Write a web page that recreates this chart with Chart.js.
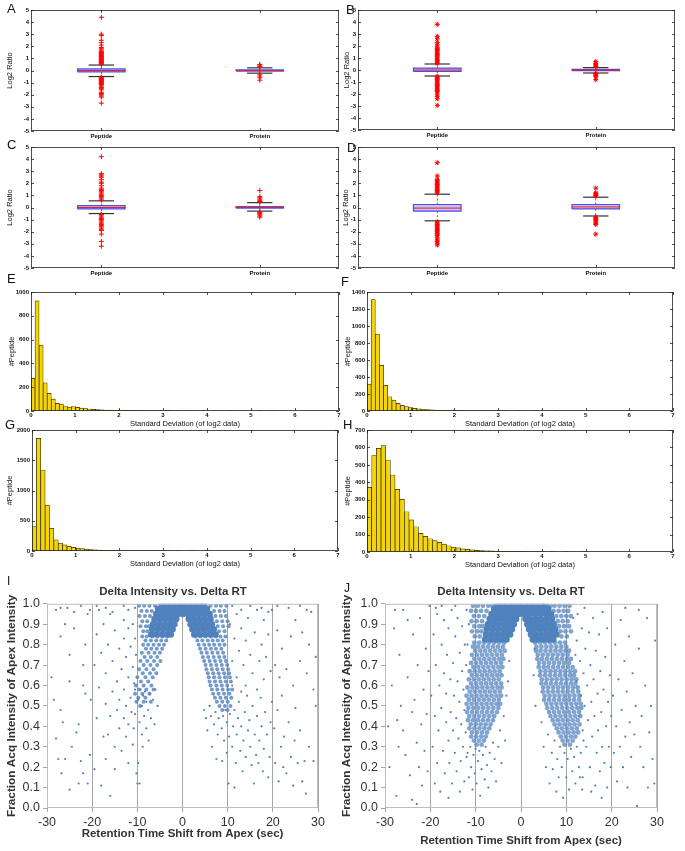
<!DOCTYPE html>
<html lang="en">
<head>
<meta charset="UTF-8">
<title>Log2 ratio, SD histograms and RT shift scatter</title>
<style>
  body { margin: 0; background: #fff; }
  #fig { position: relative; width: 685px; height: 851px; overflow: hidden; font-family: "Liberation Sans", Arial, sans-serif; }
  #fig canvas { position: absolute; }
  .tag { position: absolute; font-size: 13px; line-height: 13px; color: #111; }
</style>
</head>
<body>
<div id="fig">
  <canvas id="cA" width="344" height="146" style="left:0;top:0"></canvas>
  <canvas id="cB" width="340" height="146" style="left:340px;top:0"></canvas>
  <canvas id="cC" width="344" height="146" style="left:0;top:137px"></canvas>
  <canvas id="cD" width="340" height="146" style="left:340px;top:137px"></canvas>
  <canvas id="cE" width="344" height="146" style="left:0;top:282px"></canvas>
  <canvas id="cF" width="340" height="146" style="left:340px;top:282px"></canvas>
  <canvas id="cG" width="344" height="150" style="left:0;top:420px"></canvas>
  <canvas id="cH" width="340" height="150" style="left:340px;top:420px"></canvas>
  <canvas id="cI" width="346" height="276" style="left:0;top:575px"></canvas>
  <canvas id="cJ" width="342" height="276" style="left:340px;top:575px"></canvas>
  <div class="tag" style="left:7px;top:2px">A</div>
  <div class="tag" style="left:346px;top:3px">B</div>
  <div class="tag" style="left:7px;top:138px">C</div>
  <div class="tag" style="left:347px;top:141px">D</div>
  <div class="tag" style="left:7px;top:272px">E</div>
  <div class="tag" style="left:341px;top:275px">F</div>
  <div class="tag" style="left:5px;top:418px">G</div>
  <div class="tag" style="left:343px;top:418px">H</div>
  <div class="tag" style="left:7px;top:575px;font-size:12px">I</div>
  <div class="tag" style="left:344px;top:582px;font-size:12px">J</div>
</div>
<script src="https://cdn.jsdelivr.net/npm/chart.js@4"></script>
<script>
// ---- box plots (A-D): [lower whisker, q1, median, q3, upper whisker]
const boxCats = ['Peptide', 'Protein'];
const aPeptide = [-0.5, -0.12, 0, 0.13, 0.45];
const aProtein = [-0.22, -0.05, 0, 0.05, 0.22];
const aOutPep = [4.4, 3.0, 2.9, 2.5, 2.3, 2.1, 1.9, 1.8, 1.7, 1.6, 1.55, 1.5, 1.45, 1.4, 1.35, 1.3, 1.25, 1.2, 1.15, 1.1, 1.05, 1.0, 0.95, 0.9, 0.85, 0.8, 0.75, 0.7, 0.65, 0.6, 0.55, 0.5,
  -0.55, -0.6, -0.65, -0.7, -0.75, -0.8, -0.85, -0.9, -0.95, -1.0, -1.05, -1.1, -1.15, -1.2, -1.3, -1.4, -1.5, -1.6, -1.8, -1.9, -2.0, -2.1, -2.2, -2.7];
const aOutPro = [0.5, 0.45, 0.35, 0.3, -0.3, -0.45, -0.6, -0.8];

const bPeptide = [-0.5, -0.12, 0, 0.15, 0.5];
const bProtein = [-0.25, -0.06, 0, 0.06, 0.2];
const bOutPep = [3.8, 2.8, 2.6, 2.3, 2.1, 1.9, 1.8, 1.7, 1.6, 1.5, 1.4, 1.3, 1.2, 1.1, 1.0, 0.9, 0.8, 0.7, 0.6, 0.55,
  -0.55, -0.6, -0.7, -0.8, -0.9, -1.0, -1.1, -1.2, -1.3, -1.4, -1.5, -1.6, -1.7, -1.8, -2.0, -2.2, -2.4, -2.95];
const bOutPro = [0.7, 0.55, 0.45, 0.35, 0.3, -0.3, -0.35, -0.45, -0.55, -0.8];

const cPeptide = [-0.5, -0.12, 0, 0.15, 0.55];
const cProtein = [-0.3, -0.05, 0, 0.07, 0.4];
const cOutPep = [4.2, 2.8, 2.7, 2.6, 2.5, 2.3, 2.1, 2.0, 1.8, 1.6, 1.5, 1.4, 1.3, 1.2, 1.1, 1.0, 0.9, 0.8, 0.7, 0.6,
  -0.55, -0.6, -0.7, -0.8, -0.9, -1.0, -1.1, -1.2, -1.3, -1.4, -1.5, -1.6, -1.7, -1.8, -1.9, -2.2, -2.8, -3.2];
const cOutPro = [1.4, 0.9, 0.8, 0.7, 0.6, 0.5, 0.45, -0.35, -0.4, -0.5, -0.6, -0.7, -0.8];

const dPeptide = [-1.1, -0.3, -0.05, 0.25, 1.1];
const dProtein = [-0.7, -0.12, 0.05, 0.25, 0.85];
const dOutPep = [3.7, 2.6, 2.3, 2.2, 2.1, 2.0, 1.9, 1.8, 1.7, 1.6, 1.5, 1.4, 1.3, 1.2,
  -1.2, -1.3, -1.4, -1.5, -1.6, -1.7, -1.8, -1.9, -2.0, -2.1, -2.2, -2.3, -2.5, -2.7, -2.8, -2.95, -3.1];
const dOutPro = [1.6, 1.2, 1.15, 1.1, 1.0, 0.95, -0.8, -0.85, -0.95, -1.0, -1.1, -1.2, -1.3, -1.4, -2.2];

// ---- histograms (E-H): counts per bin, bins start at 0
const binE = 0.092;
const histE = [274, 925, 553, 237, 148, 100, 65, 58, 42, 33, 38, 30, 25, 20, 17, 14, 12, 10, 8, 7, 6, 5, 5, 4, 3, 3, 2, 3, 2, 2,
  1, 2, 1, 1, 1, 0, 1, 0, 1, 0, 0, 0, 1, 0, 0, 1, 0, 0, 0, 1, 0, 0, 0, 0, 0, 0, 1, 0, 0, 1];
const binF = 0.095;
const histF = [317, 1311, 904, 536, 301, 168, 129, 90, 67, 51, 40, 32, 26, 21, 17, 14, 11, 9, 8, 6, 5, 5, 4, 3, 3, 2, 2, 2, 1, 1,
  1, 1, 0, 1, 0, 0, 1, 0, 0, 0, 1, 0, 0, 0, 0, 1];
const binG = 0.1;
const histG = [402, 1862, 1339, 760, 375, 185, 130, 100, 78, 60, 48, 38, 30, 24, 19, 15, 12, 10, 8, 6, 5, 4, 4, 3, 3, 2, 2, 2, 1, 1,
  1, 1, 0, 1, 0, 0, 1, 0, 0, 0, 1];
const binH = 0.107;
const histH = [371, 553, 595, 610, 528, 442, 360, 302, 231, 184, 145, 107, 90, 76, 65, 55, 45, 36, 28, 24, 18, 15, 12, 10, 8, 7, 6, 5, 4, 4,
  3, 2, 2, 2, 1, 1, 1, 1, 0, 1, 0, 0, 1, 0, 0, 0, 1];

// ---- scatter (I, J): dense rows are [y, x1, x2, ...]; sparse points are [x, y]
const iCore = [
  [1.0, -4.6, -3.4, -2.2, -1, 0.2, 1.4, 2.6, 3.8, 4.8],
  [0.975, -5.4, -4.2, -3, -1.8, -0.6, 0.6, 1.8, 3, 4.2, 5.4],
  [0.95, -5.8, -4.6, -3.4, -2.2, -1, 0.1, 1.2, 2.4, 3.6, 4.8, 6],
  [0.925, -6.2, -5, -3.8, -2.6, -1.4, 1.4, 2.6, 3.8, 5, 6.2],
  [0.9, -6.5, -5.3, -4.1, -2.9, -1.8, 1.8, 3, 4.2, 5.4, 6.5],
  [0.875, -6.7, -5.5, -4.3, -3.1, -2.2, 2.2, 3.4, 4.6, 5.8, 6.9],
  [0.85, -6.9, -5.7, -4.5, -3.3, -2.6, 2.6, 3.8, 5, 6.2, 7.3]
];
const iMid = [
  [0.99, -9.6, -8.5, -7.3, -6.1, 6.2, 7.4, 8.5, 9.7],
  [0.965, -9.1, -7.9, -6.8, 7, 8.2, 9.3],
  [0.94, -9.5, -8.3, -7.2, 7.3, 8.5, 9.6],
  [0.915, -8.9, -7.8, 7.6, 8.8, 10],
  [0.89, -9.3, -8.1, -7.4, 7.8, 9, 10.2],
  [0.865, -8.7, -7.8, 8.1, 9.3],
  [0.84, -8.9, -7.9, -6.6, -5.5, -4.4, -3.4, 2.9, 4, 5.1, 6.3, 7.4, 8.4, 9.5],
  [0.82, -8.2, -7, -5.8, -4.7, -3.6, 3.3, 4.4, 5.6, 6.7, 7.8, 8.9],
  [0.8, -8.7, -7.6, -6.4, -5.2, -4.1, 3.6, 4.8, 5.9, 7, 8.2, 9.3],
  [0.78, -8.1, -6.9, -5.7, -4.5, 3.9, 5.1, 6.3, 7.4, 8.6],
  [0.76, -9, -7.5, -6.2, -5, 4.2, 5.4, 6.6, 7.8, 9],
  [0.74, -8.4, -7, -5.6, 4.5, 5.7, 6.9, 8.1, 9.3],
  [0.72, -9.3, -7.8, -6.3, -4.9, 4.8, 6, 7.2, 8.4, 9.6],
  [0.7, -8.6, -7.1, -5.6, 5.1, 6.3, 7.5, 8.7, 9.9],
  [0.68, -9.6, -8, -6.4, 5.3, 6.5, 7.7, 8.9, 10.1],
  [0.66, -8.8, -7.2, -5.8, 5.6, 6.8, 8, 9.2, 10.3],
  [0.64, -10, -8.2, -6.6, 5.8, 7, 8.2, 9.4, 10.5],
  [0.62, -9.2, -7.6, 6, 7.2, 8.4, 9.6, 10.7],
  [0.6, -10.3, -8.6, -6.9, 6.2, 7.5, 8.7, 9.9],
  [0.58, -9.6, -8, -6.4, 6.5, 7.7, 8.9, 10.1, 11],
  [0.56, -10.5, -8.9, -7.3, 6.8, 8, 9.2, 10.4],
  [0.54, -9.8, -8.2, 7.2, 8.4, 9.6, 10.8],
  [0.52, -10.2, -8.6, -7, 7.6, 8.8, 10],
  [0.5, -9.4, 8.2, 9.4, 10.6],
  [0.48, 8.8, 10]
];
const iSparse = [
  [-28.5, .53], [-28, .34], [-27.5, .24], [-27, .48], [-26.8, .17], [-26.5, .42], [-26, .24], [-25, .09], [-24.5, .3], [-23.5, .37], [-23, .12], [-23, .41],
  [-22.5, .23], [-22, .17], [-21.5, .56], [-21, .12], [-20.5, .26], [-20.3, .53],
  [-27, .84], [-26, .9], [-25, .75], [-24, .88], [-22, .7], [-21, .95], [-21.5, .8], [-29, .64], [-25, .62], [-22, .6],
  [-28, .97], [-27, .98], [-25.5, .98], [-24, .96], [-22.5, .99], [-20.5, .97], [-19, .99], [-17, .98], [-15.5, .96], [-13, .99], [-12, .97], [-10.5, .98],
  [-19.5, .19], [-19, .44], [-18.5, .59], [-18, .11], [-17.5, .35], [-17, .51], [-17, .24], [-16.5, .36], [-16, .06], [-16, .45], [-15.5, .57], [-15, .3],
  [-15, .19], [-14.5, .48], [-14, .39], [-14, .53], [-13.5, .28], [-13, .44], [-13, .58], [-12.5, .35], [-12.5, .5], [-12, .22], [-12, .41], [-11.5, .54],
  [-11.3, .47], [-11, .31], [-10.8, .39], [-10.5, .58], [-10.2, .17], [-10, .12], [-10.5, .46],
  [-19.5, .7], [-19, .85], [-18.5, .97], [-18, .76], [-17.5, .9], [-17, .66], [-16.5, .8], [-16, .95], [-15.5, .72], [-15, .87], [-14.5, .62], [-14, .78],
  [-13.5, .68], [-13, .83], [-13, .92], [-12.5, .74], [-12, .64], [-12, .88], [-11.5, .79], [-11, .69], [-11, .9], [-10.7, .61], [-10.5, .83], [-10.3, .75],
  [-9.8, .53], [-9.5, .42], [-9.3, .58], [-9, .36], [-9, .5], [-8.7, .55], [-8.5, .45], [-8.3, .57], [-8, .39], [-8, .52], [-7.6, .48], [-7.3, .56],
  [-7, .44], [-6.5, .53], [-6, .58], [-5.5, .5], [-9.8, .22], [-9.5, .12], [-8.8, .3], [-7.5, .33], [-6.2, .41],
  [5.2, .44], [5.5, .38], [6, .5], [6.3, .45], [6.5, .3], [7, .41], [7.3, .47], [7.5, .24], [7.8, .36], [8, .44], [8.7, .39], [9, .45], [9.2, .33],
  [9.5, .48], [9.8, .27], [9.8, .42], [4.8, .48], [8.8, .23],
  [10.2, .12], [10.3, .35], [10.5, .46], [11, .3], [11.2, .4], [11.5, .1], [11.5, .48], [11.8, .22], [12, .36], [12.3, .44], [12.5, .52], [12.8, .28],
  [13, .4], [13.3, .18], [13.5, .33], [13.8, .47], [14, .25], [14.3, .55], [14.5, .38], [14.8, .43], [15, .3], [15.3, .21], [15.5, .5], [15.8, .12],
  [16, .36], [16.3, .26], [16.5, .45], [16.8, .22], [17, .33], [17.3, .54], [17.5, .4], [17.8, .18], [18, .29], [18.3, .47], [18.7, .36], [19, .15],
  [19.3, .25], [19.5, .42], [19.8, .52],
  [10.5, .9], [11, .72], [11.5, .83], [12, .95], [12, .64], [12.5, .77], [13, .88], [13.5, .7], [14, .82], [14, .6], [14.5, .93], [15, .75], [15.5, .66],
  [16, .86], [16.5, .58], [16.5, .97], [17, .72], [17.5, .8], [18, .63], [18, .92], [18.5, .74], [19, .85], [19.5, .67], [19.8, .97], [11, .6], [13, .57],
  [11, .99], [13, .97], [15, .99], [17.5, .98], [19, .96], [21, .99], [23.5, .98], [26, .99], [27.5, .97],
  [20.3, .39], [20.5, .22], [21, .48], [21.3, .13], [21.8, .3], [22, .55], [22.3, .2], [22.5, .35], [23, .17], [23.5, .42], [24, .25], [24.5, .11],
  [24.8, .33], [25, .49], [25.5, .22], [26, .38], [26.5, .13], [27, .23], [27.3, .07], [28, .3], [29, .23], [29.5, .5],
  [20.5, .7], [21, .87], [21.5, .64], [22, .78], [23, .68], [24, .84], [24.5, .6], [25, .92], [26, .72], [26.5, .86], [27.5, .66], [28, .8], [28.5, .96],
  [29, .58], [29.5, .74]
];

const jCore = [
  [1.0, -5.2, -4, -2.8, -1.6, -0.4, 0.8, 2, 3.2, 4.4, 5.4],
  [0.975, -5.9, -4.7, -3.5, -2.3, -1.1, 0.1, 1.3, 2.5, 3.7, 4.9, 6],
  [0.95, -6.5, -5.3, -4.1, -2.9, -1.7, -0.5, 0.7, 1.9, 3.1, 4.3, 5.5, 6.6],
  [0.925, -6.9, -5.7, -4.5, -3.3, -2.1, -1.1, 1, 2, 3.2, 4.4, 5.6, 6.8],
  [0.9, -7.3, -6.1, -4.9, -3.7, -2.6, -1.6, 1.4, 2.5, 3.7, 4.9, 6.1, 7.2],
  [0.875, -7.5, -6.3, -5.1, -3.9, -2.9, -2, 1.8, 2.9, 4.1, 5.3, 6.5, 7.5],
  [0.85, -7.7, -6.5, -5.3, -4.1, -3.1, -2.4, 2.2, 3.2, 4.4, 5.6, 6.8, 7.8],
  [0.825, -7.9, -6.7, -5.5, -4.3, -3.2, 2.6, 3.6, 4.8, 6, 7.1]
];
const jMid = [
  [0.99, -10.6, -9.5, -8.4, -7.2, -6.3, 6.5, 7.4, 8.5, 9.6, 10.7],
  [0.965, -11, -9.9, -8.8, -7.6, 7.2, 8.3, 9.4, 10.4],
  [0.94, -10.4, -9.3, -8.1, 7.8, 8.9, 10, 11],
  [0.915, -10.9, -9.8, -8.6, 8.1, 9.2, 10.3],
  [0.89, -10.3, -9.2, -8.4, 8.4, 9.5, 10.6],
  [0.865, -10.8, -9.6, -8.7, 8.7, 9.8, 11],
  [0.84, -10.2, -9.1, 8.9, 10.1],
  [0.81, -10.3, -9.2, -8.1, -7, -5.9, -4.8, -3.7, 3.1, 4.2, 5.3, 6.4, 7.5, 8.6, 9.7],
  [0.79, -10.6, -9.5, -8.4, -7.3, -6.2, -5.1, -4, 3.4, 4.5, 5.6, 6.7, 7.8, 8.9, 10],
  [0.77, -10.1, -9, -7.9, -6.8, -5.7, -4.6, -3.6, 3.3, 4.3, 5.4, 6.5, 7.6, 8.7, 9.8, 10.6],
  [0.75, -10.8, -9.7, -8.6, -7.5, -6.4, -5.3, -4.2, 3.7, 4.8, 5.9, 7, 8.1, 9.2, 10.3],
  [0.73, -10.3, -9.2, -8.1, -7, -5.9, -4.8, -3.9, 3.6, 4.6, 5.7, 6.8, 7.9, 9, 10.1, 11],
  [0.71, -11, -9.9, -8.8, -7.7, -6.6, -5.5, -4.4, 4, 5.1, 6.2, 7.3, 8.4, 9.5, 10.6],
  [0.69, -10.5, -9.4, -8.3, -7.2, -6.1, -5, -4.1, 3.9, 5, 6, 7.1, 8.2, 9.3, 10.4, 11.4],
  [0.67, -11.3, -10.2, -9.1, -8, -6.9, -5.8, -4.7, 4.3, 5.4, 6.5, 7.6, 8.7, 9.8, 10.9, 11.9],
  [0.65, -10.8, -9.7, -8.6, -7.5, -6.4, -5.3, -4.3, 4.2, 5.3, 6.4, 7.5, 8.6, 9.7, 10.8, 11.7],
  [0.63, -11.5, -10.4, -9.3, -8.2, -7.1, -6, -4.9, 4.6, 5.7, 6.8, 7.9, 9, 10.1, 11.2, 12.2],
  [0.61, -11, -9.9, -8.8, -7.7, -6.6, -5.5, -4.4, 4.5, 5.5, 6.6, 7.7, 8.8, 9.9, 11, 12],
  [0.59, -11.8, -10.7, -9.6, -8.5, -7.4, -6.3, -5.2, -4.3, 4.9, 6, 7.1, 8.2, 9.3, 10.4, 11.5, 12.5],
  [0.57, -11.3, -10.2, -9.1, -8, -6.9, -5.8, -4.7, 4.8, 5.9, 7, 8.1, 9.2, 10.3, 11.4, 12.6],
  [0.55, -12, -10.9, -9.8, -8.7, -7.6, -6.5, -5.4, -4.4, 5.2, 6.3, 7.4, 8.5, 9.6, 10.7, 11.8, 12.9],
  [0.53, -11.5, -10.4, -9.3, -8.2, -7.1, -6, -4.9, 5.1, 6.2, 7.3, 8.4, 9.5, 10.6, 11.7, 12.8],
  [0.51, -12, -10.9, -9.8, -8.7, -7.6, -6.5, -5.4, -4.6, 5.6, 6.7, 7.8, 8.9, 10, 11.1, 12.2, 13.2],
  [0.49, -11.6, -10.5, -9.4, -8.3, -7.2, -6.1, -5, 5.8, 6.9, 8, 9.1, 10.2, 11.3, 12.4, 13.3],
  [0.47, -11.9, -10.8, -9.7, -8.6, -7.5, -6.4, -5.3, 6.2, 7.3, 8.4, 9.5, 10.6, 11.7, 12.8],
  [0.45, -11.4, -10.3, -9.2, -8.1, -7, -5.9, 6.5, 7.6, 8.7, 9.8, 10.9, 12, 13.1],
  [0.43, -11.7, -10.6, -9.5, -8.4, -7.3, -6.2, 7, 8.1, 9.2, 10.3, 11.4, 12.5],
  [0.41, -11.1, -10, -8.9, -7.8, -6.7, 7.4, 8.5, 9.6, 10.7, 11.8, 12.9],
  [0.39, -11.4, -10.3, -9.2, -8.1, -7, 7.9, 9, 10.1, 11.2, 12.3],
  [0.37, -10.8, -9.7, -8.6, -7.5, 8.3, 9.4, 10.5, 11.6, 12.6],
  [0.35, -11, -9.9, -8.8, -7.8, 8.8, 9.9, 11, 12],
  [0.33, -10.4, -9.3, -8.2, 9.2, 10.3, 11.4],
  [0.31, -9.8, -8.7, 9.6, 10.8]
];
const jSparse = [
  [-29, .2], [-28.5, .6], [-28, .88], [-27.5, .06], [-27.3, .43], [-27, .3], [-26.8, .75], [-26.5, .5], [-26, .97], [-26, .38], [-25.5, .26], [-25, .64],
  [-24.5, .16], [-24, .47], [-24, .04], [-23.8, .85], [-23.5, .53], [-23, .32], [-22.8, .7], [-22.5, .2], [-22.3, .93], [-22, .41], [-21.8, .11], [-21.5, .58],
  [-21.3, .28], [-21, .78], [-20.8, .46], [-20.6, .18], [-20.4, .67], [-20.2, .99], [-27.8, .97], [-25, .92], [-29.3, .4], [-23, .02],
  [-19.8, .55], [-19.5, .3], [-19.3, .85], [-19, .12], [-19, .45], [-18.8, .7], [-18.5, .22], [-18.5, .95], [-18.2, .38], [-18, .6], [-17.8, .08], [-17.6, .49],
  [-17.5, .8], [-17.2, .28], [-17, .66], [-17, .92], [-16.8, .17], [-16.5, .42], [-16.5, .56], [-16.3, .75], [-16, .33], [-16, .88], [-15.8, .22], [-15.6, .63],
  [-15.5, .47], [-15.3, .97], [-15.2, .12], [-15, .38], [-15, .71], [-14.8, .55], [-14.6, .27], [-14.5, .84], [-14.3, .44], [-14.2, .18], [-14, .62], [-14, .93],
  [-13.8, .34], [-13.6, .52], [-13.5, .76], [-13.3, .23], [-13.2, .41], [-13, .67], [-13, .89], [-12.8, .3], [-12.7, .58], [-12.5, .13], [-12.5, .48], [-12.4, .8],
  [-12.2, .37], [-12.1, .7], [-12, .25], [-12, .97], [-17.5, .99], [-14.5, .99], [-16, .05], [-13.5, .08], [-18.8, .98],
  [-11.8, .27], [-11.5, .15], [-11.2, .3], [-11, .2], [-10.7, .09], [-10.5, .26], [-10.2, .17], [-10, .29], [-9.8, .12], [-9.5, .23], [-9.2, .28], [-9, .06],
  [-8.7, .19], [-8.4, .26], [-8, .14], [-7.8, .3], [-7.5, .21], [-7.2, .1], [-6.9, .27], [-6.5, .18], [-6.2, .32], [-5.8, .24], [-5.5, .13], [-5, .3],
  [-4.6, .38], [-4.3, .22], [-3.8, .45], [-3.5, .33], [-3.2, .55], [-2.9, .62], [-2.6, .72],
  [4.5, .42], [5, .3], [5.5, .2], [6, .36], [6.3, .12], [6.8, .27], [7, .19], [7.4, .33], [7.8, .08], [8, .24], [8.3, .15], [8.6, .3], [9, .2], [9.3, .05],
  [9.6, .27], [10, .15], [10.3, .24], [10.6, .09], [11, .29], [11.3, .18], [11.7, .25], [12, .12], [12.3, .3], [12.8, .2], [13.2, .27], [13.5, .09],
  [13.8, .33], [13.6, .15], [3.2, .5], [2.8, .65], [3, .78],
  [12.2, .62], [12.3, .82], [12.5, .95], [12.8, .45], [13, .72], [13.2, .55], [13.4, .88], [13.6, .38], [13.8, .66], [14, .5], [14, .98], [14.2, .78],
  [14.4, .3], [14.6, .6], [14.8, .43], [15, .86], [15.2, .2], [15.3, .7], [15.5, .52], [15.7, .35], [15.9, .93], [16, .63], [16.2, .45], [16.4, .11],
  [16.5, .77], [16.7, .27], [16.9, .56], [17, .38], [17.2, .85], [17.4, .18], [17.5, .67], [17.7, .47], [17.9, .3], [18, .96], [18.2, .58], [18.4, .22],
  [18.6, .74], [18.8, .4], [19, .1], [19, .88], [19.2, .52], [19.4, .3], [19.6, .65], [19.8, .2], [19.9, .45], [15.5, .08], [17.8, .05], [13, .15],
  [20.3, .55], [20.5, .27], [20.8, .8], [21, .4], [21.2, .13], [21.5, .63], [21.8, .3], [22, .92], [22.2, .48], [22.5, .2], [22.8, .72], [23, .35],
  [23.3, .57], [23.5, .1], [23.8, .84], [24, .42], [24.3, .25], [24.6, .66], [25, .36], [25.3, .5], [25.6, .01], [26, .78], [26.3, .3], [26.6, .45],
  [27, .2], [27.4, .6], [27.8, .93], [28, .1], [28.3, .37], [28.7, .5], [29, .24], [29.4, .12], [29.6, .82], [26, .97], [23, .98],
  [-11.5, .9], [11.5, .93], [-11.8, .8], [12, .75]
];

// ---------------------------------------------------------------
const SANS = "'Liberation Sans', Arial, sans-serif";
Chart.defaults.font.family = SANS;
Chart.defaults.color = '#111';
Chart.defaults.plugins.legend.display = false;
Chart.defaults.plugins.tooltip.enabled = false;

// axes box (plus MATLAB-style inward ticks)
const frame = {
  id: 'frame',
  afterDatasetsDraw(chart, args, o) {
    const { ctx, chartArea: a, scales } = chart;
    ctx.save();
    ctx.strokeStyle = o.color;
    ctx.lineWidth = o.width;
    ctx.strokeRect(a.left + 0.5, a.top + 0.5, a.right - a.left - 1, a.bottom - a.top - 1);
    if (o.tick) {
      ctx.beginPath();
      scales.x.ticks.forEach(k => {
        const px = Math.round(scales.x.getPixelForValue(k.value)) + 0.5;
        ctx.moveTo(px, a.bottom); ctx.lineTo(px, a.bottom - o.tick);
        ctx.moveTo(px, a.top); ctx.lineTo(px, a.top + o.tick);
      });
      scales.y.ticks.forEach(k => {
        const py = Math.round(scales.y.getPixelForValue(k.value)) + 0.5;
        ctx.moveTo(a.left, py); ctx.lineTo(a.left + o.tick, py);
        ctx.moveTo(a.right, py); ctx.lineTo(a.right - o.tick, py);
      });
      ctx.stroke();
    }
    ctx.restore();
  }
};

const BOX = 0.15, CAP = 0.08;
function seg(pts, color, w, order, dash) {
  return { data: pts, showLine: true, borderColor: color, borderWidth: w, borderDash: dash || [], pointRadius: 0, fill: false, order };
}

function boxChart(id, stats, outs, marker, g) {
  const ds = [];
  stats.forEach((s, i) => {
    const x = i + 1;
    const [lo, q1, med, q3, hi] = s;
    ds.push(seg([{ x, y: q3 }, { x, y: hi }], '#333', 0.7, 5, [2, 2]));
    ds.push(seg([{ x, y: q1 }, { x, y: lo }], '#333', 0.7, 5, [2, 2]));
    ds.push(seg([{ x: x - CAP, y: hi }, { x: x + CAP, y: hi }], '#333', 1.2, 4));
    ds.push(seg([{ x: x - CAP, y: lo }, { x: x + CAP, y: lo }], '#333', 1.2, 4));
    const box = seg([{ x: x - BOX, y: q1 }, { x: x + BOX, y: q1 }, { x: x + BOX, y: q3 }, { x: x - BOX, y: q3 }, { x: x - BOX, y: q1 }],
      'rgba(50,50,225,0.85)', 1.2, 3);
    box.fill = 'shape';
    box.backgroundColor = 'rgba(160,135,240,0.55)';
    ds.push(box);
    ds.push(seg([{ x: x - BOX, y: med }, { x: x + BOX, y: med }], '#e82020', 1, 2));
    ds.push({ data: outs[i].map(v => ({ x, y: v })), pointStyle: marker, pointRadius: 2.5, borderColor: '#f00',
      backgroundColor: '#f00', pointBorderWidth: 1, order: 1 });
  });
  new Chart(document.getElementById(id), {
    type: 'scatter',
    data: { datasets: ds },
    options: {
      responsive: false, animation: false, devicePixelRatio: 1,
      layout: { padding: { top: g.top, right: g.right, left: 0, bottom: 0 } },
      scales: {
        x: {
          min: g.xmin, max: 2.5,
          afterBuildTicks: s => { s.ticks = [{ value: 1 }, { value: 2 }]; },
          ticks: { callback: v => boxCats[v - 1], font: { size: 6, weight: 'bold' }, padding: 2, maxRotation: 0 },
          grid: { display: false, drawTicks: false }, border: { display: false },
          afterFit: s => { s.height = g.xh; }
        },
        y: {
          min: -5, max: 5,
          ticks: { stepSize: 1, font: { size: 6, weight: 'bold' }, padding: 2 },
          grid: { display: false, drawTicks: false }, border: { display: false },
          title: { display: true, text: 'Log2 Ratio', font: { size: 7.5 }, padding: { top: g.tp, bottom: 0 } },
          afterFit: s => { s.width = g.yw; }
        }
      },
      plugins: { frame: { color: '#222', width: 0.8, tick: 3 } }
    },
    plugins: [frame]
  });
}

function histChart(id, counts, w, yMax, yStep, g) {
  new Chart(document.getElementById(id), {
    type: 'bar',
    data: {
      datasets: [{
        data: counts.map((c, i) => ({ x: (i + 0.5) * w, y: c })),
        backgroundColor: '#f4d40c', borderColor: '#2e2800', borderWidth: 0.7,
        barPercentage: 1, categoryPercentage: 1, borderSkipped: 'start'
      }]
    },
    options: {
      responsive: false, animation: false, devicePixelRatio: 1,
      layout: { padding: { top: g.top, right: g.right, left: 0, bottom: 0 } },
      scales: {
        x: {
          type: 'linear', offset: false, min: 0, max: 7,
          ticks: { stepSize: 1, font: { size: 6, weight: 'bold' }, padding: 1, maxRotation: 0 },
          grid: { display: false, drawTicks: false, offset: false }, border: { display: false },
          title: { display: true, text: 'Standard Deviation (of log2 data)', font: { size: 7.5 }, padding: { top: 0, bottom: g.tb } },
          afterFit: s => { s.height = g.xh; }
        },
        y: {
          min: 0, max: yMax,
          ticks: { stepSize: yStep, callback: v => String(v), font: { size: 6, weight: 'bold' }, padding: 2 },
          grid: { display: false, drawTicks: false }, border: { display: false },
          title: { display: true, text: '#Peptide', font: { size: 7.5 }, padding: { top: g.tp, bottom: 0 } },
          afterFit: s => { s.width = g.yw; }
        }
      },
      plugins: { frame: { color: '#222', width: 0.8, tick: 3 } }
    },
    plugins: [frame]
  });
}

const BLUE = 'rgb(79,129,189)';
function rtChart(id, core, mid, sparse, g) {
  const rowPts = r => r.slice(1).map(x => ({ x, y: r[0] }));
  const dot = (data, r, c) => ({ data, pointRadius: r, pointBackgroundColor: c, pointBorderWidth: 0, pointHoverRadius: r });
  new Chart(document.getElementById(id), {
    type: 'scatter',
    data: {
      datasets: [
        dot(core.flatMap(rowPts), 3.3, BLUE),
        dot(mid.flatMap(rowPts), g.midR, g.midC),
        dot(sparse.map(([x, y]) => ({ x, y })), 1.1, BLUE)
      ]
    },
    options: {
      responsive: false, animation: false, devicePixelRatio: 1,
      layout: { padding: 0 },
      scales: {
        x: {
          min: -30, max: 30,
          ticks: { stepSize: 10, font: { size: 12.5 }, padding: 3, color: '#333', maxRotation: 0 },
          grid: { color: '#a6a6a6', tickLength: 4 }, border: { display: false },
          title: { display: true, text: 'Retention Time Shift from Apex (sec)', color: '#333',
            font: { size: 11.5, weight: 'bold' }, padding: { top: 0, bottom: g.tb } },
          afterFit: s => { s.height = 43; }
        },
        y: {
          min: 0, max: 1,
          ticks: { stepSize: 0.1, callback: v => v.toFixed(1), font: { size: 12.5 }, padding: 3, color: '#333' },
          grid: { drawOnChartArea: false, tickLength: 4, color: '#a6a6a6' }, border: { display: false },
          title: { display: true, text: 'Fraction Acq Intensity of Apex Intensity', color: '#333',
            font: { size: 11.8, weight: 'bold' }, padding: { top: g.tp, bottom: 0 } },
          afterFit: s => { s.width = g.yw; }
        },
        y2: {
          type: 'linear', position: 'right',
          ticks: { display: false }, grid: { display: false, drawTicks: false }, border: { display: false },
          afterFit: s => { s.width = g.rw; }
        }
      },
      plugins: {
        title: { display: true, text: 'Delta Intensity vs. Delta RT', color: '#333',
          font: { size: 11.5, weight: 'bold' }, padding: { top: 10, bottom: 5 } },
        frame: { color: '#bdbdbd', width: 1, tick: 0 }
      }
    },
    plugins: [frame]
  });
}

boxChart('cA', [aPeptide, aProtein], [aOutPep, aOutPro], 'cross', { top: 10, right: 4, xh: 15, yw: 31, tp: 5.5, xmin: 0.556 });
boxChart('cB', [bPeptide, bProtein], [bOutPep, bOutPro], 'star', { top: 10, right: 5, xh: 16, yw: 18, tp: 2.5, xmin: 0.5 });
boxChart('cC', [cPeptide, cProtein], [cOutPep, cOutPro], 'cross', { top: 10, right: 4, xh: 15, yw: 31, tp: 5.5, xmin: 0.556 });
boxChart('cD', [dPeptide, dProtein], [dOutPep, dOutPro], 'star', { top: 10, right: 5, xh: 15, yw: 18, tp: 1.5, xmin: 0.5 });

histChart('cE', histE, binE, 1000, 200, { top: 10, right: 5, xh: 17, yw: 31, tp: 7.2, tb: 0 });
histChart('cF', histF, binF, 1400, 200, { top: 10, right: 7, xh: 17, yw: 27, tp: 3.8, tb: 0 });
histChart('cG', histG, binG, 2000, 500, { top: 10, right: 6, xh: 19, yw: 32, tp: 5.5, tb: 1.2 });
histChart('cH', histH, binH, 700, 100, { top: 10, right: 7, xh: 18, yw: 27, tp: 3.8, tb: 0.5 });

rtChart('cI', iCore, iMid, iSparse, { yw: 47, rw: 28, tp: 4.2, tb: 10.2, midR: 2.0, midC: 'rgba(79,129,189,0.8)' });
rtChart('cJ', jCore, jMid, jSparse, { yw: 45, rw: 25, tp: 0, tb: 2.8, midR: 2.4, midC: 'rgba(79,129,189,0.72)' });
</script>
</body>
</html>
